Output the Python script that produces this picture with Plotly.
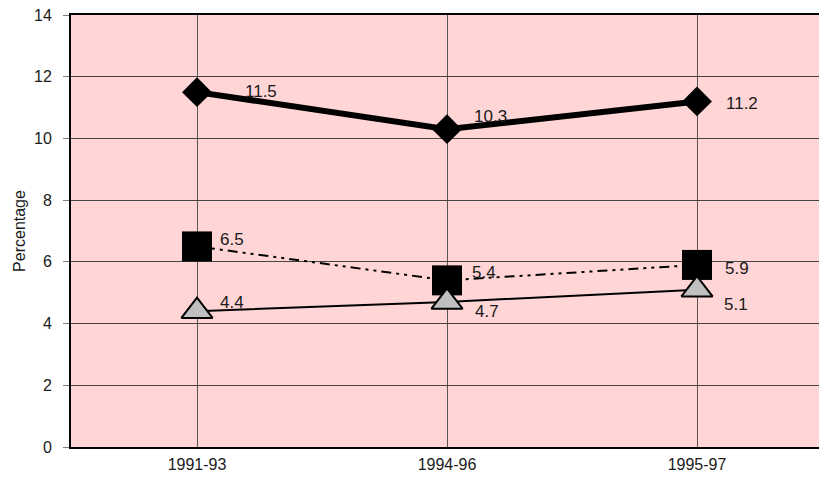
import plotly.graph_objects as go

categories = ["1991-93", "1994-96", "1995-97"]
series_diamond = [11.5, 10.3, 11.2]
series_square = [6.5, 5.4, 5.9]
series_triangle = [4.4, 4.7, 5.1]
y_ticks = [0, 2, 4, 6, 8, 10, 12, 14]

xs = list(range(len(categories)))

# label offsets (pixels) for the value annotations: (dx, dy) with dy positive = up
off_diamond = [(46, 1), (25, 13), (27, -2)]
off_square = [(21, 7), (23, 8), (26, -4)]
off_triangle = [(21, 9), (26, -10), (25, -15)]

FONT = "Liberation Sans, Arial, sans-serif"

fig = go.Figure()
fig.add_trace(go.Scatter(
    x=xs, y=series_diamond, mode="lines+markers",
    line=dict(color="black", width=6),
    marker=dict(symbol="diamond", size=23, color="black"),
    showlegend=False, hoverinfo="skip"))
fig.add_trace(go.Scatter(
    x=xs, y=series_square, mode="lines+markers",
    line=dict(color="black", width=2, dash="10px,5px,3px,5px,3px,5px"),
    marker=dict(symbol="square", size=30, color="black"),
    showlegend=False, hoverinfo="skip"))
fig.add_trace(go.Scatter(
    x=xs, y=series_triangle, mode="lines+markers",
    line=dict(color="black", width=2),
    marker=dict(symbol="triangle-up", size=27, color="#C0C0C0",
                line=dict(color="black", width=2)),
    showlegend=False, hoverinfo="skip"))

annotations = []
for vals, offs in ((series_diamond, off_diamond), (series_square, off_square),
                   (series_triangle, off_triangle)):
    for xi, v, (dx, dy) in zip(xs, vals, offs):
        annotations.append(dict(
            x=xi, y=v, xref="x", yref="y", text=f"{v:.1f}", showarrow=False,
            xanchor="left", yanchor="middle", xshift=dx, yshift=dy,
            font=dict(family=FONT, size=17, color="#1a1a1a")))

fig.update_layout(
    width=819, height=478,
    margin=dict(l=71, r=0, t=15, b=31),
    paper_bgcolor="white",
    plot_bgcolor="#FFD5D5",
    annotations=annotations,
    font=dict(family=FONT, size=16, color="#1a1a1a"),
)
fig.update_xaxes(
    range=[-0.504, 2.488],
    tickmode="array", tickvals=xs, ticktext=categories,
    showgrid=True, gridcolor="#555555", gridwidth=1,
    showline=True, linecolor="black", linewidth=2, mirror=True,
    ticks="", zeroline=False,
    tickfont=dict(family=FONT, size=16, color="#1a1a1a"),
    ticklabelstandoff=2,
)
fig.update_yaxes(
    range=[0, 14],
    tickmode="array", tickvals=y_ticks,
    showgrid=True, gridcolor="#444444", gridwidth=1,
    showline=True, linecolor="black", linewidth=2,
    ticks="outside", ticklen=6, tickcolor="#808080", tickwidth=1,
    zeroline=False,
    tickfont=dict(family=FONT, size=16, color="#1a1a1a"),
    ticklabelstandoff=8,
    title=dict(text="Percentage", font=dict(family=FONT, size=16, color="#1a1a1a"),
               standoff=4),
)

fig.write_html(
    "out.html",
    config={"displayModeBar": False},
    post_script="document.body.style.margin='0px';document.body.style.overflow='hidden';",
)
